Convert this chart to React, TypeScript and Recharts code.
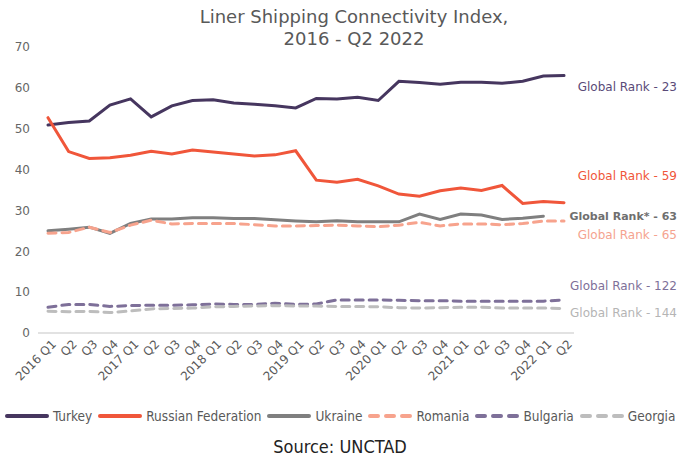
import { LineChart, Line, XAxis, YAxis, ReferenceDot } from 'recharts';

const quarters = [
  '2016 Q1', 'Q2', 'Q3', 'Q4',
  '2017 Q1', 'Q2', 'Q3', 'Q4',
  '2018 Q1', 'Q2', 'Q3', 'Q4',
  '2019 Q1', 'Q2', 'Q3', 'Q4',
  '2020 Q1', 'Q2', 'Q3', 'Q4',
  '2021 Q1', 'Q2', 'Q3', 'Q4',
  '2022 Q1', 'Q2',
];

const turkey = [
  50.9, 51.5, 51.9, 55.8, 57.3, 52.9, 55.6, 56.9, 57.1, 56.3, 56.0, 55.6, 55.1,
  57.4, 57.3, 57.7, 56.9, 61.6, 61.3, 60.9, 61.4, 61.4, 61.1, 61.6, 62.9, 63.0,
];
const russia = [
  52.7, 44.4, 42.7, 42.9, 43.5, 44.5, 43.8, 44.8, 44.3, 43.8, 43.3, 43.6, 44.6,
  37.4, 36.9, 37.6, 36.0, 34.0, 33.5, 34.8, 35.5, 34.9, 36.1, 31.7, 32.2, 31.9,
];
const ukraine = [
  25.0, 25.4, 25.9, 24.4, 26.8, 27.9, 27.9, 28.2, 28.2, 28.0, 28.0, 27.7, 27.4,
  27.2, 27.5, 27.2, 27.2, 27.2, 29.1, 27.8, 29.1, 28.9, 27.8, 28.1, 28.6, null,
];
const romania = [
  24.4, 24.6, 25.9, 24.6, 26.4, 27.6, 26.7, 26.8, 26.8, 26.8, 26.5, 26.2, 26.2,
  26.3, 26.4, 26.2, 26.0, 26.4, 27.1, 26.2, 26.7, 26.7, 26.5, 26.8, 27.4, 27.4,
];
const bulgaria = [
  6.3, 7.0, 7.0, 6.5, 6.7, 6.8, 6.8, 6.9, 7.1, 7.0, 7.0, 7.3, 7.0,
  7.1, 8.1, 8.1, 8.1, 8.0, 7.9, 7.9, 7.8, 7.8, 7.8, 7.8, 7.8, 8.1,
];
const georgia = [
  5.3, 5.2, 5.3, 5.0, 5.4, 5.9, 6.0, 6.1, 6.4, 6.5, 6.6, 6.7, 6.6,
  6.6, 6.5, 6.5, 6.4, 6.2, 6.1, 6.2, 6.3, 6.3, 6.1, 6.1, 6.1, 6.0,
];

const yTicks = [0, 10, 20, 30, 40, 50, 60, 70];

const series = [
  { key: 'turkey', name: 'Turkey', color: '#46365f', dash: undefined },
  { key: 'russia', name: 'Russian Federation', color: '#f0563a', dash: undefined },
  { key: 'ukraine', name: 'Ukraine', color: '#7f7f7f', dash: undefined },
  { key: 'romania', name: 'Romania', color: '#f7a38d', dash: '8 6' },
  { key: 'bulgaria', name: 'Bulgaria', color: '#7e7099', dash: '8 6' },
  { key: 'georgia', name: 'Georgia', color: '#bdbdbd', dash: '8 6' },
];

// annotation text: [label, y position on value scale, colour, bold]
const rankLabels: [string, number, string, boolean][] = [
  ['Global Rank - 23', 60.2, '#5a4a78', false],
  ['Global Rank - 59', 38.4, '#f0563a', false],
  ['Global Rank* - 63', 28.6, '#6f6f6f', true],
  ['Global Rank - 65', 24.0, '#f5a38f', false],
  ['Global Rank - 122', 11.5, '#7e7099', false],
  ['Global Rank - 144', 4.9, '#b5b5b5', false],
];

// unique key per quarter so repeated "Q2" labels stay separate categories
const data = quarters.map((q, i) => ({
  id: String(i),
  turkey: turkey[i],
  russia: russia[i],
  ukraine: ukraine[i],
  romania: romania[i],
  bulgaria: bulgaria[i],
  georgia: georgia[i],
}));
const lastId = String(quarters.length - 1);

const font = 'DejaVu Sans, sans-serif';
const condensed = 'DejaVu Sans Condensed, DejaVu Sans, sans-serif';

function QuarterTick({ x, y, payload }: any) {
  return (
    <g transform={`translate(${x + 3},${y - 2})`}>
      <text
        x={0}
        y={0}
        dy="0.7em"
        textAnchor="end"
        transform="rotate(-45)"
        fontSize={12}
        fill="#595959"
        fontFamily={font}
      >
        {quarters[Number(payload.value)]}
      </text>
    </g>
  );
}

function RankText(text: string, color: string, bold: boolean) {
  return (props: any) => {
    const vb = props.viewBox || {};
    return (
      <text
        x={vb.x + 113}
        y={vb.y}
        dy="0.35em"
        textAnchor="end"
        fontSize={bold ? 11 : 12}
        fontWeight={bold ? 'bold' : 'normal'}
        fill={color}
        fontFamily={font}
      >
        {text}
      </text>
    );
  };
}

export default function App() {
  return (
    <div
      style={{
        position: 'absolute',
        left: 0,
        top: 0,
        width: 680,
        height: 457,
        background: '#fff',
        fontFamily: font,
      }}
    >
      <div
        style={{
          position: 'absolute',
          left: 0,
          width: 708,
          top: 6,
          textAlign: 'center',
          fontSize: 18,
          lineHeight: '22px',
          color: '#595959',
        }}
      >
        Liner Shipping Connectivity Index,
        <br />
        2016 - Q2 2022
      </div>
      <div style={{ position: 'absolute', left: 0, top: 0 }}>
        <LineChart
          width={680}
          height={400}
          data={data}
          margin={{ top: 47, right: 106, bottom: 0, left: 8 }}
        >
          <XAxis
            dataKey="id"
            interval={0}
            tickLine={false}
            axisLine={{ stroke: '#d9d9d9', strokeWidth: 1.5 }}
            padding={{ left: 10, right: 10 }}
            height={67}
            tick={<QuarterTick />}
          />
          <YAxis
            domain={[0, 70]}
            ticks={yTicks}
            width={30}
            axisLine={false}
            tickLine={false}
            tick={{ fontSize: 12, fill: '#666', fontFamily: font }}
          />
          {series.map((s) => (
            <Line
              key={s.key}
              type="linear"
              dataKey={s.key}
              name={s.name}
              stroke={s.color}
              strokeWidth={3}
              strokeDasharray={s.dash}
              strokeLinecap="round"
              dot={false}
              activeDot={false}
              isAnimationActive={false}
            />
          ))}
          {rankLabels.map(([text, v, color, bold]) => (
            <ReferenceDot
              key={text}
              x={lastId}
              y={v}
              r={0}
              ifOverflow="visible"
              label={{ content: RankText(text, color, bold) }}
            />
          ))}
        </LineChart>
      </div>
      <div
        style={{
          position: 'absolute',
          left: 5,
          top: 408,
          display: 'flex',
          alignItems: 'center',
          fontFamily: condensed,
          fontSize: 13.5,
          color: '#595959',
          whiteSpace: 'nowrap',
        }}
      >
        {series.map((s) => (
          <div
            key={s.key}
            style={{ display: 'flex', alignItems: 'center', marginRight: 6 }}
          >
            <svg width={44} height={10} style={{ marginRight: 4 }}>
              <line
                x1={2}
                y1={5}
                x2={42}
                y2={5}
                stroke={s.color}
                strokeWidth={4}
                strokeLinecap="round"
                strokeDasharray={s.dash ? '8 8' : undefined}
              />
            </svg>
            <span>{s.name}</span>
          </div>
        ))}
      </div>
      <div
        style={{
          position: 'absolute',
          left: 0,
          width: 680,
          top: 436,
          textAlign: 'center',
          fontFamily: condensed,
          fontSize: 18,
          color: '#222',
        }}
      >
        Source: UNCTAD
      </div>
    </div>
  );
}
